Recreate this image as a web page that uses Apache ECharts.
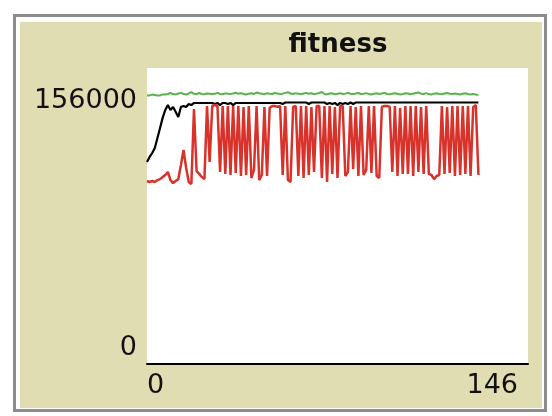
<!DOCTYPE html>
<html>
<head>
<meta charset="utf-8">
<script src="https://cdn.jsdelivr.net/npm/echarts@6/dist/echarts.min.js"></script>
<style>
html,body{margin:0;padding:0;background:#fff;}
#chart{width:552px;height:416px;}
</style>
</head>
<body>
<div id="chart"></div>
<script>
const title = 'fitness';
const xTickLabels = [0, 146];
const yTickLabels = [0, 156000];

const greenValues = [
169600,169700,170200,169900,169600,169700,170300,170200,170600,171200,170500,170300,170900,171300,170600,170200,
170900,171800,170700,170500,171200,170600,170400,170900,170800,170500,170700,171300,170600,170400,171000,170800,
170500,170900,171400,170700,171100,170600,170300,170800,171000,170600,171500,171000,170700,170400,171100,170800,
170600,171200,170900,170500,170800,171300,171700,170900,170600,171100,170800,170400,170900,171300,170700,171000,
170500,170800,171200,171800,170600,170300,170900,171000,170400,170700,171100,170600,170800,171300,170700,170500,
170900,171200,170600,170800,171100,170500,170300,170700,171000,170600,170900,171300,170600,170400,170800,171100,
170700,170300,170600,171000,170900,170400,170700,171200,171500,170800,170600,171100,170500,170300,170800,171000,
170600,170400,170900,171200,170700,170500,170900,170600,170300,170800,171000,170500,170300,170600,170200,170000
];

const blackValues = [
127600,130800,133300,136500,142800,149100,155500,160500,163600,160500,162400,159200,156000,162400,163000,162400,
164300,163600,164900,164900,164900,164900,164900,164900,164900,164900,164300,164900,163600,164900,164900,164300,
164900,163600,164900,164900,164900,164900,164900,164900,164900,164900,164900,164900,164900,164900,164900,164900,
164900,164900,164900,164900,164300,165200,165200,165200,165200,165200,165200,165200,165200,165200,164300,165200,
165200,165200,165200,165200,165200,164300,164900,164300,164900,163600,164900,164300,164900,164300,165200,164300,
165200,165200,165200,165200,165200,165200,165200,165200,165200,165200,165200,165200,165200,165200,165200,165200,
165200,165200,165200,165200,165200,165200,165200,165200,165200,165200,165200,165200,165200,165200,165200,165200,
165200,165200,165200,165200,165200,165200,165200,165200,165200,165200,165200,165200,165200,165200,165200,165200
];

const redValues = [
115600,115000,115600,115000,116200,116800,118100,119400,121300,116200,114300,115600,116800,125700,135200,123800,
115000,113700,161100,121900,120100,118100,116800,163000,127600,163000,163600,163000,121300,163000,120100,163000,
119400,163000,120700,163000,118800,162400,119400,163000,117500,122600,163000,116200,119400,162400,118800,161700,
163000,163000,162400,163000,119400,163000,116200,115000,162400,163000,118800,163000,117500,163000,119400,162400,
121300,163000,163000,117500,163000,115000,163000,120100,162400,117500,163000,163000,118800,121300,163000,123200,
162400,118800,163000,119400,122600,163000,120700,163000,118800,117500,162400,163000,163000,162400,121300,163000,
118800,161700,120100,163000,120100,163000,118800,163000,121300,162400,120100,163000,120100,119400,116800,118800,
119400,163000,120100,162400,120700,163000,118800,163000,119400,163000,120100,163000,118800,162400,163600,119400
];

const toPairs = arr => arr.map((v, i) => [i, v]);

const chart = echarts.init(document.getElementById('chart'), null, {renderer: 'canvas'});
const labelFont = {fontFamily: 'DejaVu Sans', fontSize: 27, color: '#111'};

chart.setOption({
  animation: false,
  backgroundColor: '#ffffff',
  title: {
    text: title,
    left: 333,
    top: 27,
    textAlign: 'center',
    textStyle: {fontFamily: 'DejaVu Sans', fontWeight: 'bold', fontSize: 26, color: '#111'}
  },
  graphic: [
    {type: 'rect', z: -100, silent: true, shape: {x: 14.5, y: 15.5, width: 531, height: 395},
     style: {fill: '#ffffff', stroke: '#8c8c8c', lineWidth: 3}},
    {type: 'rect', z: -99, silent: true, shape: {x: 20, y: 22, width: 522, height: 386},
     style: {fill: '#e0ddb3'}}
  ],
  grid: {
    left: 147, right: 24, top: 68, bottom: 52,
    show: true, backgroundColor: '#ffffff', borderWidth: 0
  },
  xAxis: {
    type: 'value',
    min: xTickLabels[0],
    max: xTickLabels[1],
    interval: 146,
    axisLine: {show: true, lineStyle: {color: '#000', width: 2}},
    axisTick: {show: false},
    splitLine: {show: false},
    axisLabel: Object.assign({}, labelFont, {
      margin: 8,
      alignMinLabel: 'left',
      alignMaxLabel: 'right',
      padding: [0, 10, 0, 0],
      formatter: v => xTickLabels.includes(v) ? String(v) : ''
    })
  },
  yAxis: {
    type: 'value',
    min: 0,
    max: 187000,
    interval: 156000,
    axisLine: {show: false},
    axisTick: {show: false},
    splitLine: {show: false},
    axisLabel: Object.assign({}, labelFont, {
      margin: 10,
      verticalAlign: 'bottom',
      padding: [0, 0, 3, 0],
      showMaxLabel: false,
      formatter: v => yTickLabels.includes(v) ? String(v) : ''
    })
  },
  series: [
    {name: 'green', type: 'line', data: toPairs(greenValues), showSymbol: false,
     lineStyle: {color: '#58b34a', width: 2}, itemStyle: {color: '#58b34a'}},
    {name: 'black', type: 'line', data: toPairs(blackValues), showSymbol: false,
     lineStyle: {color: '#000000', width: 2.2}, itemStyle: {color: '#000000'}},
    {name: 'red', type: 'line', data: toPairs(redValues), showSymbol: false,
     lineStyle: {color: '#d8322b', width: 2.5}, itemStyle: {color: '#d8322b'}}
  ]
});
</script>
</body>
</html>
